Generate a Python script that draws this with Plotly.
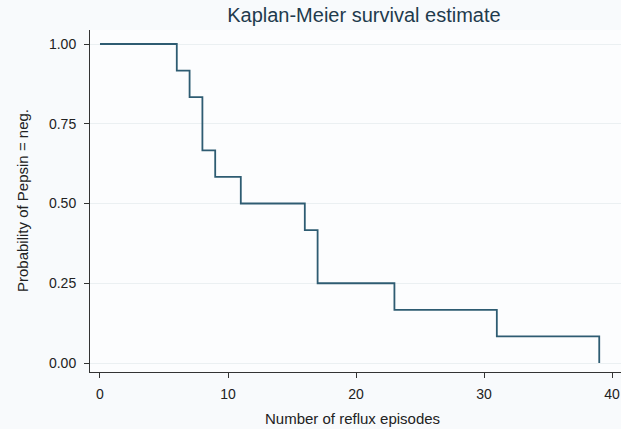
import plotly.graph_objects as go

# Kaplan-Meier step data
times = [0, 6, 7, 8, 9, 11, 16, 17, 23, 31, 39]
survival = [1.0, 0.9167, 0.8333, 0.6667, 0.5833, 0.5, 0.4167, 0.25, 0.1667, 0.0833, 0.0]
x_ticks = [0, 10, 20, 30, 40]
y_ticks = [0.0, 0.25, 0.5, 0.75, 1.0]
y_tick_labels = ["0.00", "0.25", "0.50", "0.75", "1.00"]

font_family = "Liberation Sans, Arial, sans-serif"

fig = go.Figure()
fig.add_trace(go.Scatter(
    x=times, y=survival, mode="lines", line_shape="hv",
    line=dict(color="#2e5c72", width=1.8), showlegend=False, hoverinfo="skip",
))

fig.update_layout(
    width=621, height=429,
    margin=dict(l=90, r=0, t=30, b=57, autoexpand=False),
    paper_bgcolor="#f8fafc", plot_bgcolor="#fcfdfe",
    font=dict(family=font_family, color="#222222", size=14),
    title=dict(text="Kaplan-Meier survival estimate", x=0.586, xanchor="center",
               y=0.981, yanchor="top",
               font=dict(size=20, color="#1f3b4d", family=font_family)),
    annotations=[
        dict(text="Probability of Pepsin = neg.", textangle=-90,
             xref="paper", yref="paper", x=-0.128, y=0.5,
             xanchor="center", yanchor="middle", showarrow=False,
             font=dict(size=15, color="#222222")),
        dict(text="Number of reflux episodes",
             xref="paper", yref="paper", x=0.495, y=-0.137,
             xanchor="center", yanchor="middle", showarrow=False,
             font=dict(size=15, color="#222222")),
    ],
)
fig.update_xaxes(
    range=[-0.78, 40.7], tickvals=x_ticks, ticks="outside", ticklen=5,
    tickcolor="#333333", showline=True, linecolor="#333333", linewidth=1,
    showgrid=False, zeroline=False, automargin=False,
    tickfont=dict(size=14), ticklabelstandoff=4, ticklabeloverflow="allow",
)
fig.update_yaxes(
    range=[-0.0282, 1.0439], tickvals=y_ticks, ticktext=y_tick_labels,
    ticks="outside", ticklen=5, tickcolor="#333333",
    showline=True, linecolor="#333333", linewidth=1,
    showgrid=True, gridcolor="#ebf0f2", gridwidth=1, zeroline=False,
    automargin=False, tickfont=dict(size=14), ticklabelstandoff=5,
)

fig.write_html(
    "out.html",
    config={"displayModeBar": False},
    post_script="document.body.style.margin='0';document.body.style.overflow='hidden';",
)
